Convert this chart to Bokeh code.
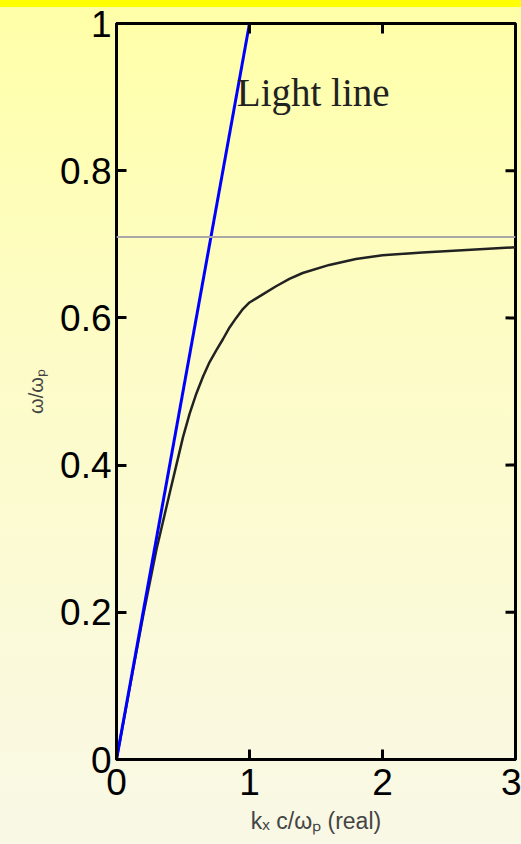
from math import pi
from bokeh.plotting import figure
from bokeh.models import Range1d, Span, FixedTicker, Label
from bokeh.embed import file_html
from bokeh.resources import INLINE

# Surface plasmon dispersion curve
k_sp = [0.0, 0.1, 0.2, 0.3, 0.4, 0.45, 0.5, 0.55, 0.6, 0.65, 0.7, 0.75, 0.8, 0.85, 0.9, 0.95,
        1.0, 1.1, 1.2, 1.3, 1.4, 1.6, 1.8, 2.0, 2.3, 2.6, 3.0]
w_sp = [0.0, 0.098, 0.195, 0.285, 0.362, 0.400, 0.438, 0.470, 0.497, 0.520, 0.540, 0.556, 0.571, 0.587, 0.600, 0.612,
        0.621, 0.632, 0.643, 0.653, 0.661, 0.672, 0.680, 0.685, 0.689, 0.692, 0.696]

# Light line
k_light = [0.0, 1.0]
w_light = [0.0, 1.0]

# Asymptote (omega_p / sqrt(2))
w_asym = 0.71

x_ticks = [0, 1, 2, 3]
x_tick_labels = ["0", "1", "2", "3"]
y_ticks = [0, 0.2, 0.4, 0.6, 0.8, 1]
y_tick_labels = ["0", "0.2", "0.4", "0.6", "0.8", "1"]

FONT = "Liberation Sans"

p = figure(width=521, height=844, x_range=Range1d(x_ticks[0], x_ticks[-1]),
           y_range=Range1d(y_ticks[0], y_ticks[-1]),
           output_backend="svg", toolbar_location=None,
           min_border_left=116, min_border_right=6, min_border_top=23, min_border_bottom=85)

p.background_fill_alpha = 0
p.border_fill_alpha = 0
p.outline_line_color = "black"
p.outline_line_width = 3
p.styles = {"background": "linear-gradient(to bottom, #ffff00 0px, #ffff00 7px, #ffffa8 7px, #fdfcc6 40%, #f9f8e6 100%)"}
p.grid.visible = False

p.add_layout(Span(location=w_asym, dimension="width", line_color="#a8a8a8", line_width=2))
p.line(k_sp, w_sp, line_color="#222222", line_width=2.5)
p.line(k_light, w_light, line_color="#0000ff", line_width=3)

# mirrored inward ticks on the right and top edges
p.ray(x=[x_ticks[-1]] * len(y_ticks), y=y_ticks, length=10, length_units="screen",
      angle=pi, line_color="black", line_width=3)
p.ray(x=x_ticks, y=[y_ticks[-1]] * len(x_ticks), length=10, length_units="screen",
      angle=-pi / 2, line_color="black", line_width=3)

p.add_layout(Label(x=0.905, y=0.877, text="Light line", text_font="Liberation Serif",
                   text_font_size="39px", text_color="#222222"))


def style_axis(ax, ticks, labels):
    ax.ticker = FixedTicker(ticks=ticks)
    ax.major_label_overrides = {t: l for t, l in zip(ticks, labels)}
    ax.major_tick_in = 10
    ax.major_tick_out = 0
    ax.minor_tick_in = 0
    ax.minor_tick_out = 0
    ax.axis_line_width = 3
    ax.major_tick_line_width = 3
    ax.axis_line_color = "black"
    ax.major_tick_line_color = "black"
    ax.major_label_text_font = FONT
    ax.major_label_text_color = "black"
    ax.major_label_text_font_size = "37px"


xa = p.xaxis[0]
style_axis(xa, x_ticks, x_tick_labels)
xa.major_label_standoff = 9
xa.axis_label = "kₓ c/ωₚ (real)"
xa.axis_label_text_font = FONT
xa.axis_label_text_font_size = "23px"
xa.axis_label_text_font_style = "normal"
xa.axis_label_standoff = 10

ya = p.yaxis[0]
style_axis(ya, y_ticks, y_tick_labels)
ya.major_label_standoff = 5
ya.axis_label = "ω/ωₚ"
ya.axis_label_text_font = FONT
ya.axis_label_text_font_size = "20px"
ya.axis_label_text_font_style = "normal"
ya.axis_label_standoff = 10

open("out.html", "w").write(file_html(p, INLINE))
